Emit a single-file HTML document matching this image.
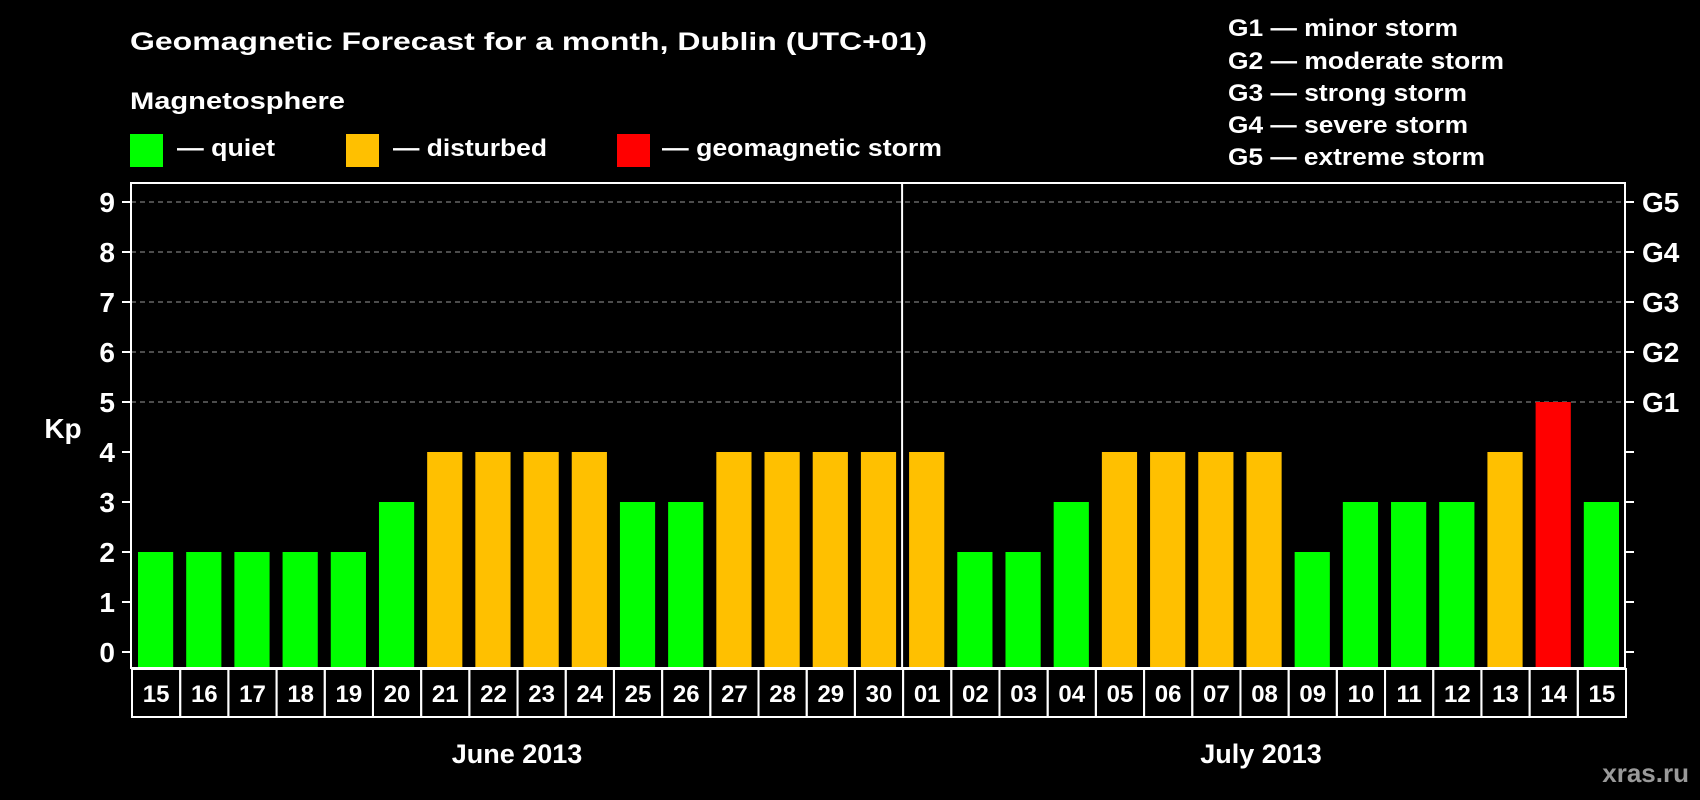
<!DOCTYPE html>
<html><head><meta charset="utf-8"><style>
html,body{margin:0;padding:0;background:#000;}
svg{display:block;font-family:"Liberation Sans",sans-serif;font-weight:bold;}
</style></head><body>
<svg id="chart" width="1700" height="800" viewBox="0 0 1700 800">
<rect width="1700" height="800" fill="#000"/>
<text x="130" y="50" fill="#fff" font-size="25" textLength="797" lengthAdjust="spacingAndGlyphs">Geomagnetic Forecast for a month, Dublin (UTC+01)</text>
<text x="130" y="109" fill="#fff" font-size="24" textLength="215" lengthAdjust="spacingAndGlyphs">Magnetosphere</text>
<g><rect x="130" y="134" width="33" height="33" fill="#00ff00"/><text x="177" y="156" fill="#fff" font-size="24" textLength="98" lengthAdjust="spacingAndGlyphs">— quiet</text></g>
<g><rect x="346" y="134" width="33" height="33" fill="#ffc000"/><text x="393" y="156" fill="#fff" font-size="24" textLength="154" lengthAdjust="spacingAndGlyphs">— disturbed</text></g>
<g><rect x="617" y="134" width="33" height="33" fill="#ff0000"/><text x="662" y="156" fill="#fff" font-size="24" textLength="280" lengthAdjust="spacingAndGlyphs">— geomagnetic storm</text></g>
<g fill="#fff" font-size="24">
<text x="1228" y="36" textLength="230" lengthAdjust="spacingAndGlyphs">G1 — minor storm</text>
<text x="1228" y="69" textLength="276" lengthAdjust="spacingAndGlyphs">G2 — moderate storm</text>
<text x="1228" y="101" textLength="239" lengthAdjust="spacingAndGlyphs">G3 — strong storm</text>
<text x="1228" y="133" textLength="240" lengthAdjust="spacingAndGlyphs">G4 — severe storm</text>
<text x="1228" y="165" textLength="257" lengthAdjust="spacingAndGlyphs">G5 — extreme storm</text>
</g>
<text x="63" y="438" fill="#fff" font-size="28" text-anchor="middle">Kp</text>
<text x="517" y="763" fill="#fff" font-size="27" text-anchor="middle">June 2013</text>
<text x="1261" y="763" fill="#fff" font-size="27" text-anchor="middle">July 2013</text>
<text x="1689" y="782" fill="#9a9a9a" font-size="26" text-anchor="end">xras.ru</text>
<g id="plot"></g>
</svg>
<script>
const days = ["15","16","17","18","19","20","21","22","23","24","25","26","27","28","29","30","01","02","03","04","05","06","07","08","09","10","11","12","13","14","15"];
const kp = [2,2,2,2,2,3,4,4,4,4,3,3,4,4,4,4,4,2,2,3,4,4,4,4,2,3,3,3,4,5,3];
const yTicks = [0,1,2,3,4,5,6,7,8,9];
const gLabels = ["G1","G2","G3","G4","G5"];
const gLevels = [5,6,7,8,9];
const monthSplit = 16;

const L=131, R=1625, T=183, B=668, Y0=652, UNIT=50;
const pitch=(R-L)/days.length;
const yS=v=>Y0-v*UNIT;
const xS=i=>L+i*pitch;
const NS="http://www.w3.org/2000/svg";
const g=document.getElementById('plot');
function mk(t,a){const e=document.createElementNS(NS,t);for(const k in a)e.setAttribute(k,a[k]);g.appendChild(e);return e;}
function col(v){return v>=5?"#ff0000":(v>=4?"#ffc000":"#00ff00");}

yTicks.forEach(v=>{
  const y=yS(v);
  if(v>=5){const gl=mk('line',{x1:L,x2:R,y1:y,y2:y,stroke:'#999','stroke-dasharray':'5,4','stroke-width':1});
    
    }
  const t1=mk('line',{x1:L-9,x2:L,y1:y,y2:y,stroke:'#fff','stroke-width':2});
  
  
  const t2=mk('line',{x1:R,x2:R+9,y1:y,y2:y,stroke:'#fff','stroke-width':2});
  
  
  const tl=mk('text',{x:115,y:y+10,fill:'#fff','font-size':28,'text-anchor':'end'});
  tl.textContent=v;
  
  
});
gLevels.forEach((lv,i)=>{
  const t=mk('text',{x:1642,y:yS(lv)+10,fill:'#fff','font-size':28});
  t.textContent=gLabels[i];
  
  
});
kp.forEach((v,i)=>{
  const b=mk('rect',{x:xS(i)+7,y:yS(v),width:pitch-13,height:B-yS(v),fill:col(v)});
  
  
});
days.forEach((d,i)=>{
  const c=mk('rect',{x:xS(i)+1,y:669,width:pitch,height:48,fill:'none',stroke:'#fff','stroke-width':2});
  
  
  const t=mk('text',{x:xS(i)+1+pitch/2,y:702,fill:'#fff','font-size':24,'text-anchor':'middle'});
  t.textContent=d;
  
  
});
const fr=mk('rect',{x:L,y:T,width:R-L,height:B-T,fill:'none',stroke:'#fff','stroke-width':2});


const dv=mk('line',{x1:xS(monthSplit),x2:xS(monthSplit),y1:T,y2:B,stroke:'#fff','stroke-width':2});


</script>
</body></html>
